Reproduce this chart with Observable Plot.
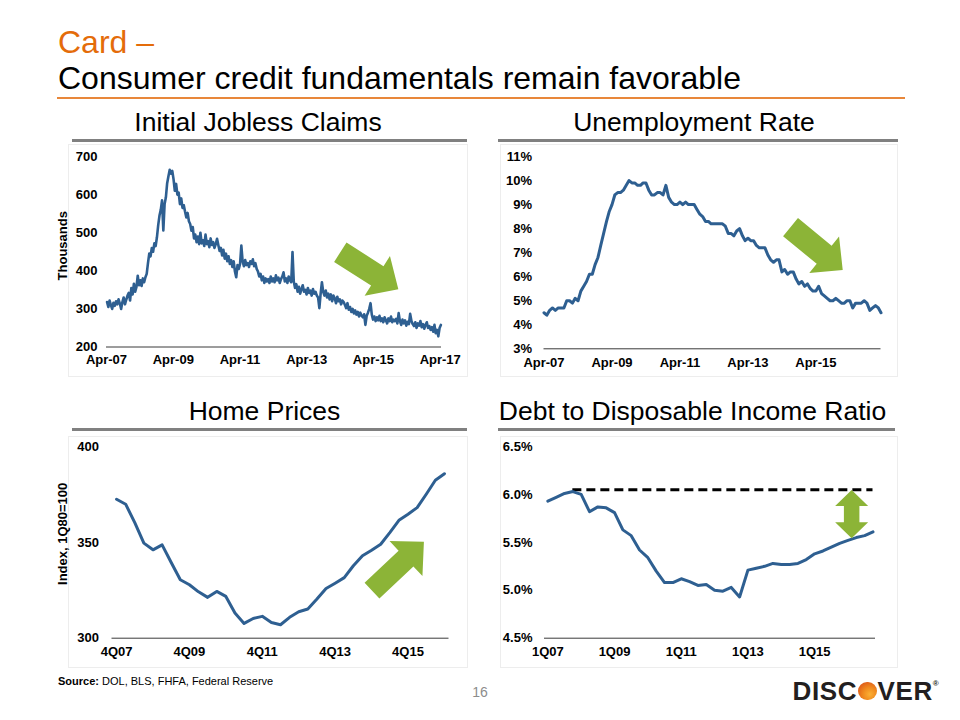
<!DOCTYPE html>
<html>
<head>
<meta charset="utf-8">
<script src="https://cdn.jsdelivr.net/npm/d3@7"></script>
<script src="https://cdn.jsdelivr.net/npm/@observablehq/plot@0.6"></script>
<style>
html,body{margin:0;padding:0;background:#fff;}
#page{position:relative;width:960px;height:720px;overflow:hidden;font-family:"Liberation Sans",Arial,Helvetica,sans-serif;color:#000;}
.abs{position:absolute;white-space:nowrap;line-height:1;}
.ptitle{font-size:26.5px;text-align:center;width:400px;}
.rule{position:absolute;height:3px;background:#808080;}
.box{position:absolute;box-sizing:border-box;border:1px solid #ededed;}
.chart{position:absolute;}
.chart svg{background:transparent;max-width:none;}
#dot{display:inline-block;width:18.5px;height:18.5px;border-radius:50%;vertical-align:0;margin:0 1px;
  background:radial-gradient(circle at 62% 68%,#fbb034 0%,#f08a1f 40%,#e0601a 75%,#cf4f18 100%);}
</style>
</head>
<body>
<div id="page">
  <div class="abs" style="left:58px;top:26px;font-size:32px;color:#E46C0A;">Card –</div>
  <div class="abs" style="left:58px;top:62px;font-size:32px;">Consumer credit fundamentals remain favorable</div>
  <div class="abs" style="left:57px;top:97px;width:848px;height:2px;background:#E8873A;"></div>

  <div class="abs ptitle" style="left:58px;top:108.6px;">Initial Jobless Claims</div>
  <div class="abs ptitle" style="left:494px;top:108.6px;">Unemployment Rate</div>
  <div class="abs ptitle" style="left:64.5px;top:397.6px;">Home Prices</div>
  <div class="abs ptitle" style="left:492.5px;top:397.6px;">Debt to Disposable Income Ratio</div>

  <div class="rule" style="left:72px;top:139px;width:395px;"></div>
  <div class="rule" style="left:498px;top:139px;width:400px;"></div>
  <div class="rule" style="left:72px;top:428px;width:395px;"></div>
  <div class="rule" style="left:498px;top:428px;width:397px;"></div>

  <div class="box" style="left:68px;top:144px;width:400px;height:233px;"></div>
  <div class="box" style="left:500px;top:144px;width:398px;height:233px;"></div>
  <div class="box" style="left:68px;top:436px;width:400px;height:232px;"></div>
  <div class="box" style="left:500px;top:436px;width:398px;height:232px;"></div>

  <div class="chart" id="c1" style="left:40px;top:144px;"></div>
  <div class="chart" id="c2" style="left:480px;top:144px;"></div>
  <div class="chart" id="c3" style="left:40px;top:436px;"></div>
  <div class="chart" id="c4" style="left:480px;top:436px;"></div>

  <div class="abs" style="left:58px;top:675.7px;font-size:11px;"><b>Source:</b> DOL, BLS, FHFA, Federal Reserve</div>
  <div class="abs" style="left:460px;top:685px;width:40px;text-align:center;font-size:14px;color:#8c8c8c;">16</div>
  <div class="abs" style="left:792.5px;top:678px;font-size:26px;font-weight:bold;color:#231f20;letter-spacing:0.6px;">DISC<span id="dot"></span>VER<span style="font-size:8px;vertical-align:14px;letter-spacing:0;">®</span></div>
</div>
<script>
// ---------------- DATA ----------------
// Initial jobless claims (thousands), bi-weekly readings from early Apr 2007
const claimsStart = "2007-04-07";
const claimsStepDays = 14;
const claimsValues = [
  318,305,322,310,300,316,308,320,312,
  325,314,300,318,330,312,324,335,
  342,322,355,338,366,345,358,387,
  362,375,360,380,370,383,392,
  420,445,438,460,450,472,465,488,
  520,545,560,585,506,575,593,
  630,648,665,655,662,
  640,610,628,600,
  605,575,590,565,572,
  555,540,552,530,523,
  505,515,485,495,475,
  490,470,500,472,480,465,495,470,478,462,485,468,475,460,470,484,
  468,452,460,440,455,432,445,425,438,418,428,
  410,425,398,383,415,405,418,466,
  425,412,428,415,420,410,425,418,430,412,420,405,
  398,385,392,375,385,368,380,372,
  378,368,385,372,380,370,388,375,382,368,378,385,396,372,380,368,385,375,370,
  449,
  372,355,365,345,358,340,352,362,345,350,338,355,342,348,335,352,340,345,335,
  330,302,340,370,
  345,335,348,330,340,325,338,320,335,328,315,332,320,325,312,322,318,
  310,302,315,298,305,292,300,288,296,285,292,280,290,282,278,286,
  258,282,290,300,315,
  285,272,280,268,278,270,282,268,275,265,278,270,262,275,268,280,265,272,268,274,262,
  289,
  268,258,272,262,270,256,266,260,287,
  268,260,255,265,250,262,256,268,252,260,248,258,265,250,255,245,
  252,240,258,236,245,228,250,258
];
const claimsXTicks = ["Apr-07","Apr-09","Apr-11","Apr-13","Apr-15","Apr-17"];
const claimsYTicks = [200,300,400,500,600,700];

// Unemployment rate (%), monthly from Apr 2007
const unempStart = "2007-04-01";
const unempValues = [
  4.5,4.4,4.6,4.7,4.6,4.7,4.7,4.7,5.0,
  5.0,4.9,5.1,5.0,5.4,5.6,5.8,6.1,6.1,6.5,6.8,7.3,
  7.8,8.3,8.7,9.0,9.4,9.5,9.5,9.6,9.8,10.0,9.9,9.9,
  9.8,9.8,9.9,9.9,9.6,9.4,9.4,9.5,9.5,9.4,9.8,9.3,
  9.1,9.0,9.0,9.1,9.0,9.1,9.0,9.0,9.0,8.8,8.6,8.5,
  8.3,8.3,8.2,8.2,8.2,8.2,8.2,8.1,7.8,7.8,7.7,7.9,
  8.0,7.7,7.5,7.6,7.5,7.5,7.3,7.2,7.2,7.2,6.9,6.7,
  6.6,6.7,6.7,6.2,6.3,6.1,6.2,6.2,5.9,5.7,5.8,5.6,
  5.7,5.5,5.4,5.4,5.6,5.3,5.2,5.1,5.0,5.0,5.1,5.0,
  4.9,4.9,5.0,5.0,4.7,4.9,4.9,4.9,5.0,4.9,4.6,4.7,
  4.8,4.7,4.5
];
const unempXTicks = ["Apr-07","Apr-09","Apr-11","Apr-13","Apr-15"];
const unempYTicks = [3,4,5,6,7,8,9,10,11];

// Home prices (FHFA index, 1Q80=100), quarterly from 4Q07
const homeStart = "4Q07";
const homeValues = [
  372.5,369.9,360.3,349.6,346.1,348.7,339.5,330.5,327.9,324.2,
  321.3,324.4,321.8,313.1,307.7,310.3,311.4,308.2,307.0,310.9,
  313.8,315.2,320.4,325.9,328.7,331.6,337.8,343.0,345.9,349.0,
  355.1,361.5,364.7,368.1,375.1,382.4,385.8
];
const homeXTicks = ["4Q07","4Q09","4Q11","4Q13","4Q15"];
const homeYTicks = [300,350,400];

// Household debt to disposable income (%), quarterly from 1Q07
const debtStart = "1Q07";
const debtValues = [
  5.93,5.97,6.01,6.03,6.00,5.82,5.87,5.86,5.81,5.63,
  5.57,5.42,5.34,5.20,5.08,5.08,5.12,5.09,5.05,5.06,
  5.00,4.99,5.03,4.93,5.21,5.23,5.25,5.28,5.27,5.27,
  5.28,5.32,5.38,5.41,5.45,5.49,5.52,5.55,5.57,5.61
];
const debtPrePeakLevel = 6.05;
const debtPrePeakFrom = "4Q07";
const debtXTicks = ["1Q07","1Q09","1Q11","1Q13","1Q15"];
const debtYTicks = [4.5,5.0,5.5,6.0,6.5];

// ---------------- HELPERS ----------------
const FONT = '"Liberation Sans", Arial, Helvetica, sans-serif';
const LINE = "#2e5f91";
const GREEN = "#8cb437";
const AXIS = "#3a3a3a";
const parseMon = d3.utcParse("%b-%y");
const fmtMon = d3.utcFormat("%b-%y");
const parseDay = d3.utcParse("%Y-%m-%d");
function qIndex(s) { const m = /(\d)Q(\d\d)/.exec(s); return (2000 + +m[2]) * 4 + (+m[1] - 1); }
function qLabel(i) { return `${(i % 4) + 1}Q${String(Math.floor(i / 4) % 100).padStart(2, "0")}`; }
const style = {fontFamily: FONT, fontSize: "13px", fontWeight: "bold", color: "#000", background: "transparent", overflow: "visible"};
const SVGNS = "http://www.w3.org/2000/svg";
function poly(pts, fill) {
  const p = document.createElementNS(SVGNS, "polygon");
  p.setAttribute("points", pts.map(d => d[0].toFixed(2) + "," + d[1].toFixed(2)).join(" "));
  p.setAttribute("fill", fill);
  return p;
}
function blockArrow(tail, tip, o) {
  return (index, scales) => {
    const x1 = scales.x(tail[0]), y1 = scales.y(tail[1]), x2 = scales.x(tip[0]), y2 = scales.y(tip[1]);
    const L = Math.hypot(x2 - x1, y2 - y1), ux = (x2 - x1) / L, uy = (y2 - y1) / L, nx = -uy, ny = ux;
    const bx = x2 - ux * o.headL, by = y2 - uy * o.headL, s = o.shaft / 2, h = o.headW / 2;
    return poly([[x1 + nx * s, y1 + ny * s], [bx + nx * s, by + ny * s], [bx + nx * h, by + ny * h], [x2, y2],
      [bx - nx * h, by - ny * h], [bx - nx * s, by - ny * s], [x1 - nx * s, y1 - ny * s]], o.fill);
  };
}
function doubleArrow(a, b, o) {
  return (index, scales) => {
    const x1 = scales.x(a[0]), y1 = scales.y(a[1]), x2 = scales.x(b[0]), y2 = scales.y(b[1]);
    const L = Math.hypot(x2 - x1, y2 - y1), ux = (x2 - x1) / L, uy = (y2 - y1) / L, nx = -uy, ny = ux;
    const ax = x1 + ux * o.headL, ay = y1 + uy * o.headL, bx = x2 - ux * o.headL, by = y2 - uy * o.headL;
    const s = o.shaft / 2, h = o.headW / 2;
    return poly([[x1, y1], [ax + nx * h, ay + ny * h], [ax + nx * s, ay + ny * s], [bx + nx * s, by + ny * s],
      [bx + nx * h, by + ny * h], [x2, y2], [bx - nx * h, by - ny * h], [bx - nx * s, by - ny * s],
      [ax - nx * s, ay - ny * s], [ax - nx * h, ay - ny * h]], o.fill);
  };
}

// ---------------- CHART 1: Initial Jobless Claims ----------------
const c0 = parseDay(claimsStart);
const claims = claimsValues.map((v, i) => ({date: d3.utcDay.offset(c0, i * claimsStepDays), value: v}));
document.getElementById("c1").append(Plot.plot({
  width: 428, height: 233,
  marginLeft: 66, marginRight: 27, marginTop: 12, marginBottom: 30.5,
  style,
  x: {type: "utc", domain: [parseDay("2007-04-01"), parseDay("2017-04-15")], ticks: claimsXTicks.map(parseMon),
      tickFormat: fmtMon, tickSize: 0, tickPadding: 8, label: null},
  y: {domain: [claimsYTicks[0], claimsYTicks[claimsYTicks.length - 1]], ticks: claimsYTicks, tickSize: 0, tickPadding: 9, label: null},
  marks: [
    Plot.ruleY([claimsYTicks[0]], {stroke: AXIS, strokeWidth: 1}),
    Plot.line(claims, {x: "date", y: "value", stroke: LINE, strokeWidth: 2.6, strokeLinejoin: "round"}),
    blockArrow([parseDay("2014-04-09"), 447.5], [parseDay("2016-01-04"), 350], {shaft: 23, headW: 47, headL: 25, fill: GREEN}),
    Plot.text(["Thousands"], {text: d => d, frameAnchor: "left", rotate: -90, dx: -43.5, dy: -6, textAnchor: "middle",
      fontSize: 13, fontWeight: "bold", fill: "#000"})
  ]
}));

// ---------------- CHART 2: Unemployment Rate ----------------
const u0 = parseDay(unempStart);
const unemp = unempValues.map((v, i) => ({date: d3.utcMonth.offset(u0, i), value: v}));
document.getElementById("c2").append(Plot.plot({
  width: 418, height: 233,
  marginLeft: 63.5, marginRight: 17.5, marginTop: 12, marginBottom: 28.7,
  style,
  x: {type: "utc", domain: [parseDay("2007-04-01"), parseDay("2017-03-01")], ticks: unempXTicks.map(parseMon),
      tickFormat: fmtMon, tickSize: 0, tickPadding: 8.5, label: null},
  y: {domain: [unempYTicks[0], unempYTicks[unempYTicks.length - 1]], ticks: unempYTicks, tickFormat: d => d + "%",
      tickSize: 0, tickPadding: 12, label: null},
  marks: [
    Plot.ruleY([unempYTicks[0]], {stroke: AXIS, strokeWidth: 1}),
    Plot.line(unemp, {x: "date", y: "value", stroke: LINE, strokeWidth: 3}),
    blockArrow([parseDay("2014-07-08"), 8.04], [parseDay("2016-01-20"), 6.26], {shaft: 23.5, headW: 47, headL: 24, fill: GREEN})
  ]
}));

// ---------------- CHART 3: Home Prices ----------------
const h0 = qIndex(homeStart);
document.getElementById("c3").append(Plot.plot({
  width: 428, height: 232,
  marginLeft: 71.5, marginRight: 19.5, marginTop: 10, marginBottom: 30.3,
  style,
  x: {domain: [h0 - 0.5, h0 + homeValues.length - 0.5], ticks: homeXTicks.map(qIndex), tickFormat: qLabel,
      tickSize: 0, tickPadding: 8.5, label: null},
  y: {domain: [homeYTicks[0], homeYTicks[homeYTicks.length - 1]], ticks: homeYTicks, tickSize: 0, tickPadding: 13, label: null},
  marks: [
    Plot.ruleY([homeYTicks[0]], {stroke: AXIS, strokeWidth: 1}),
    Plot.line(homeValues, {x: (d, i) => h0 + i, y: d => d, stroke: LINE, strokeWidth: 3}),
    blockArrow([h0 + 28.1, 324.6], [h0 + 33.8, 350.1], {shaft: 21.6, headW: 48, headL: 24.6, fill: GREEN}),
    Plot.text(["Index, 1Q80=100"], {text: d => d, frameAnchor: "left", rotate: -90, dx: -49, dy: -8.5, textAnchor: "middle",
      fontSize: 13, fontWeight: "bold", fill: "#000"})
  ]
}));

// ---------------- CHART 4: Debt to Disposable Income Ratio ----------------
const d0 = qIndex(debtStart);
document.getElementById("c4").append(Plot.plot({
  width: 418, height: 232,
  marginLeft: 64, marginRight: 23, marginTop: 10, marginBottom: 30.3,
  style,
  x: {domain: [d0 - 0.4, d0 + debtValues.length - 0.7], ticks: debtXTicks.map(qIndex), tickFormat: qLabel,
      tickSize: 0, tickPadding: 8.5, label: null},
  y: {domain: [debtYTicks[0], debtYTicks[debtYTicks.length - 1]], ticks: debtYTicks, tickFormat: d => d.toFixed(1) + "%",
      tickSize: 0, tickPadding: 12, label: null},
  marks: [
    Plot.ruleY([debtYTicks[0]], {stroke: AXIS, strokeWidth: 1}),
    Plot.ruleY([debtPrePeakLevel], {x1: qIndex(debtPrePeakFrom), x2: d0 + debtValues.length - 1, stroke: "#000",
      strokeWidth: 3, strokeDasharray: "9,5"}),
    Plot.line(debtValues, {x: (d, i) => d0 + i, y: d => d, stroke: LINE, strokeWidth: 3}),
    doubleArrow([d0 + 36.5, 6.04], [d0 + 36.5, 5.537], {shaft: 15.5, headW: 33, headL: 16, fill: GREEN})
  ]
}));
</script>
</body>
</html>
